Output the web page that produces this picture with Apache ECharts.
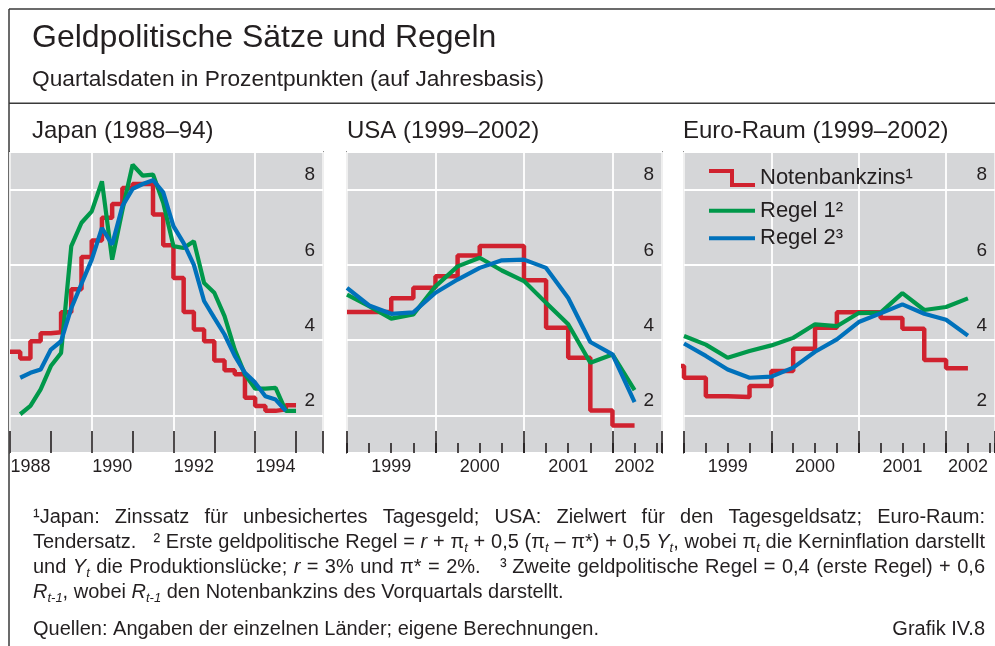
<!DOCTYPE html>
<html>
<head>
<meta charset="utf-8">
<script src="https://cdn.jsdelivr.net/npm/echarts@6/dist/echarts.min.js"></script>
<style>
  html, body { margin: 0; padding: 0; background: #fff; }
  #chart { width: 995px; height: 646px; }
</style>
</head>
<body>
<div id="chart"></div>
<script>
// ---- data (quarterly) ----
// Japan 1988-94
const jpRateStart = 1988
const jpRate = [3.69, 3.51, 3.97, 4.18, 4.21, 4.74, 5.35, 6.21, 6.65, 7.25, 7.62, 8.04, 8.15, 8.15,
  7.34, 6.52, 5.65, 4.75, 4.28, 3.97, 3.46, 3.20, 3.09, 2.47, 2.25, 2.12, 2.16, 2.27]
const jpRuleStart = 1988.25
const jpRule1 = [2.03, 2.25, 2.69, 3.31, 3.66, 6.50, 7.12, 7.42, 8.22, 6.14, 7.45, 8.66, 8.37, 8.40,
  7.65, 6.50, 6.45, 6.63, 5.52, 5.26, 4.64, 3.75, 3.09, 2.71, 2.71, 2.73, 2.12, 2.12]
const jpRule2 = [3.00, 3.13, 3.22, 3.75, 3.97, 4.85, 5.50, 6.14, 6.98, 6.54, 7.56, 8.02, 8.15, 8.25,
  7.93, 7.03, 6.58, 6.00, 5.04, 4.59, 4.15, 3.58, 3.13, 2.87, 2.51, 2.42, 2.12]

// USA 1999-2002
const usRateStart = 1999
const usRate = [4.75, 4.75, 5.11, 5.39, 5.70, 6.25, 6.50, 6.50, 5.59, 4.33, 3.53, 2.13, 1.73]
const usRuleStart = 1999
const usRule1 = [5.21, 4.90, 4.57, 4.68, 5.43, 5.96, 6.19, 5.85, 5.57, 4.99, 4.42, 3.40, 3.62, 2.67]
const usRule2 = [5.39, 4.92, 4.70, 4.74, 5.26, 5.61, 5.92, 6.12, 6.14, 5.92, 5.12, 3.95, 3.62, 2.35]

// Euro-Raum 1999-2002 (first rate value is 1998 Q4, clipped at the edge)
const euRateStart = 1998.75
const euRate = [3.31, 3.00, 2.51, 2.49, 2.78, 3.18, 3.77, 4.33, 4.74, 4.74, 4.59, 4.30, 3.47, 3.25]
const euRuleStart = 1999
const euRule1 = [4.11, 3.88, 3.53, 3.71, 3.86, 4.06, 4.42, 4.37, 4.72, 4.73, 5.25, 4.80, 4.88, 5.11]
const euRule2 = [3.91, 3.58, 3.22, 3.00, 3.03, 3.27, 3.69, 4.02, 4.48, 4.71, 4.95, 4.70, 4.54, 4.12]

// tick label positions (year labels sit in the middle of the year)
const jpLabelPos = [1988.5, 1990.5, 1992.5, 1994.5]
const usLabelPos = [1999.5, 2000.5, 2001.5, 2002.25]
const euLabelPos = [1999.5, 2000.5, 2001.5, 2002.25]
const yLabels = [2, 4, 6, 8]

const seriesNames = ['Notenbankzins¹', 'Regel 1²', 'Regel 2³']
const panelTitles = ['Japan (1988–94)', 'USA (1999–2002)', 'Euro-Raum (1999–2002)']

// ---- styles ----
const font = '"Liberation Sans", Arial, sans-serif'
const ink = '#231f20'
const frame = '#3a3a3a'
const plotBg = '#d5d6d8'
const red = '#d0222f'
const green = '#00984a'
const blue = '#0071bb'

const gridTop = 152
const gridHeight = 301

const panels = [
  { left: 10, width: 313, min: 1988, max: 1995.66, split: 2, majorLen: 0, minor: 1, minorLen: 22,
    labels: jpLabelPos, rateStart: jpRateStart, rate: jpRate, ruleStart: jpRuleStart, rule1: jpRule1, rule2: jpRule2 },
  { left: 347, width: 315, min: 1999, max: 2002.56, split: 1, majorLen: 22, minor: 0.25, minorLen: 10,
    labels: usLabelPos, rateStart: usRateStart, rate: usRate, ruleStart: usRuleStart, rule1: usRule1, rule2: usRule2 },
  { left: 684, width: 315, min: 1999, max: 2002.56, split: 1, majorLen: 22, minor: 0.25, minorLen: 10,
    labels: euLabelPos, rateStart: euRateStart, rate: euRate, ruleStart: euRuleStart, rule1: euRule1, rule2: euRule2 }
]

function quarterly (start, values) {
  return values.map((v, i) => [start + i * 0.25, v])
}
// step series: every quarter is a flat piece, so close the last quarter too
function stepped (start, values) {
  const pts = quarterly(start, values)
  pts.push([start + values.length * 0.25, values[values.length - 1]])
  return pts
}

const grids = []
const xAxes = []
const yAxes = []
const series = []
const tickStyle = { color: ink, width: 1.6 }

panels.forEach((p, g) => {
  grids.push({
    left: p.left, top: gridTop, width: p.width, height: gridHeight,
    show: true, backgroundColor: plotBg, borderColor: frame, borderWidth: 1.5
  })
  xAxes.push({
    type: 'value', gridIndex: g, position: 'bottom', min: p.min, max: p.max, interval: p.split,
    axisLine: { show: false },
    axisTick: { show: p.majorLen > 0, inside: true, length: p.majorLen, lineStyle: tickStyle },
    axisLabel: {
      customValues: p.labels, formatter: v => String(Math.floor(v)),
      fontSize: 18, fontFamily: font, color: ink, margin: 5
    },
    splitLine: { show: true, lineStyle: { color: '#fff', width: 1.8 } }
  })
  xAxes.push({
    type: 'value', gridIndex: g, position: 'bottom', min: p.min, max: p.max, interval: p.minor,
    axisLine: { show: false },
    axisTick: { show: true, inside: true, length: p.minorLen, lineStyle: tickStyle },
    axisLabel: { show: false },
    splitLine: { show: false }
  })
  yAxes.push({
    type: 'value', gridIndex: g, position: 'right', min: 1, max: 9, splitNumber: 4,
    axisLine: { show: false },
    axisTick: { show: false },
    axisLabel: {
      inside: true, margin: 8, customValues: yLabels,
      fontSize: 19, fontFamily: font, color: ink,
      verticalAlign: 'bottom', padding: [0, 0, 5, 0]
    },
    splitLine: { show: true, lineStyle: { color: '#fff', width: 1.8 } }
  })
  const common = {
    type: 'line', xAxisIndex: 2 * g, yAxisIndex: g,
    symbol: 'none', showSymbol: false, silent: true, animation: false, clip: true,
    emphasis: { disabled: true }
  }
  series.push(
    { ...common, name: seriesNames[0], data: stepped(p.rateStart, p.rate), step: 'end',
      lineStyle: { color: red, width: 4.5 }, itemStyle: { color: red }, z: 3 },
    { ...common, name: seriesNames[1], data: quarterly(p.ruleStart, p.rule1),
      lineStyle: { color: green, width: 4.2 }, itemStyle: { color: green }, z: 4 },
    { ...common, name: seriesNames[2], data: quarterly(p.ruleStart, p.rule2),
      lineStyle: { color: blue, width: 4.2 }, itemStyle: { color: blue }, z: 5 }
  )
})

// legend, one component per entry so the icons can differ in height
const stepIcon = 'path://M0,0L25,0L25,14L46,14L46,18L21,18L21,4L0,4Z'
const barIcon = 'path://M0,0L46,0L46,4L0,4Z'
function legendItem (name, icon, h, top, pad) {
  return {
    left: 709, top: top, padding: 0, selectedMode: false,
    itemWidth: 46, itemHeight: h, icon: icon,
    itemStyle: { borderWidth: 0 },
    data: [name],
    textStyle: { fontSize: 22, fontFamily: font, color: ink, padding: pad }
  }
}
const legends = [
  legendItem(seriesNames[0], stepIcon, 18, 167, [4, 0, 0, 0]),
  legendItem(seriesNames[1], barIcon, 4, 199.7, [0, 0, 12, 0]),
  legendItem(seriesNames[2], barIcon, 4, 227.3, [0, 0, 12, 0])
]

// ---- footnotes (justified like the print original) ----
const noteLines = [
  ['¹Japan:', 'Zinssatz', 'für', 'unbesichertes', 'Tagesgeld;', 'USA:', 'Zielwert', 'für', 'den',
    'Tagesgeldsatz;', 'Euro-Raum:'],
  ['Tendersatz.', '', '', '² Erste', 'geldpolitische', 'Regel', '=', '{i|r}', '+', 'π{sub|t}', '+', '0,5',
    '(π{sub|t}', '–', 'π*)', '+', '0,5', '{i|Y}{sub|t},', 'wobei', 'π{sub|t}', 'die', 'Kerninflation', 'darstellt'],
  ['und', '{i|Y}{sub|t}', 'die', 'Produktionslücke;', '{i|r}', '=', '3%', 'und', 'π*', '=', '2%.', '', '',
    '³ Zweite', 'geldpolitische', 'Regel', '=', '0,4', '(erste', 'Regel)', '+', '0,6'],
  ['{i|R}{sub|t-1},', 'wobei', '{i|R}{sub|t-1}', 'den', 'Notenbankzins', 'des', 'Vorquartals', 'darstellt.']
]
const noteJustify = [true, true, true, false]
const noteY = [517, 542, 567, 592]
const sourcesText = 'Quellen: Angaben der einzelnen Länder; eigene Berechnungen.'
const grafikText = 'Grafik IV.8'

const noteSize = 20
const noteFonts = {
  n: noteSize + 'px ' + font,
  i: 'italic ' + noteSize + 'px ' + font,
  sub: 'italic 13px ' + font
}
const noteRich = {
  i: { fontStyle: 'italic', fontSize: noteSize, fontFamily: font, fill: ink, lineHeight: 26 },
  sub: { fontStyle: 'italic', fontSize: 13, fontFamily: font, fill: ink, lineHeight: 12, verticalAlign: 'bottom' }
}
const measureCtx = document.createElement('canvas').getContext('2d')
function wordWidth (w) {
  let width = 0
  w.replace(/\{(\w+)\|([^}]*)\}|([^{]+)/g, (m, st, tx, plain) => {
    measureCtx.font = noteFonts[st || 'n']
    width += measureCtx.measureText(st ? tx : plain).width
    return m
  })
  return width
}
measureCtx.font = noteFonts.n
const spaceWidth = measureCtx.measureText(' ').width

const noteLeft = 33
const noteRight = 985
const graphics = []

noteLines.forEach((words, li) => {
  const widths = words.map(wordWidth)
  const total = widths.reduce((a, b) => a + b, 0)
  const gap = noteJustify[li] ? (noteRight - noteLeft - total) / (words.length - 1) : spaceWidth
  let x = noteLeft
  words.forEach((w, wi) => {
    if (w) {
      graphics.push({
        type: 'text', x: x, y: noteY[li], silent: true,
        style: { text: w, fontSize: noteSize, fontFamily: font, fill: ink, lineHeight: 26,
          verticalAlign: 'middle', align: 'left', rich: noteRich }
      })
    }
    x += widths[wi] + gap
  })
})

function label (text, x, y, size, align) {
  return {
    type: 'text', x: x, y: y, silent: true,
    style: { text: text, fontSize: size, fontFamily: font, fill: ink, verticalAlign: 'middle', align: align || 'left' }
  }
}
function rule (x1, y1, x2, y2) {
  return { type: 'line', silent: true, shape: { x1, y1, x2, y2 }, style: { stroke: frame, lineWidth: 1.5 } }
}

graphics.push(
  rule(9, 9, 995, 9),
  rule(9, 103.3, 995, 103.3),
  rule(9, 9, 9, 646),
  label('Geldpolitische Sätze und Regeln', 32, 38.5, 32),
  label('Quartalsdaten in Prozentpunkten (auf Jahresbasis)', 32, 79.5, 22.7),
  label(panelTitles[0], 32, 131.5, 24),
  label(panelTitles[1], 347, 131.5, 24),
  label(panelTitles[2], 683, 131.5, 24),
  label(sourcesText, noteLeft, 629, noteSize),
  label(grafikText, noteRight, 629, noteSize, 'right')
)

const chart = echarts.init(document.getElementById('chart'))
chart.setOption({
  animation: false,
  textStyle: { fontFamily: font },
  grid: grids,
  xAxis: xAxes,
  yAxis: yAxes,
  legend: legends,
  series: series,
  graphic: graphics
})
</script>
</body>
</html>
